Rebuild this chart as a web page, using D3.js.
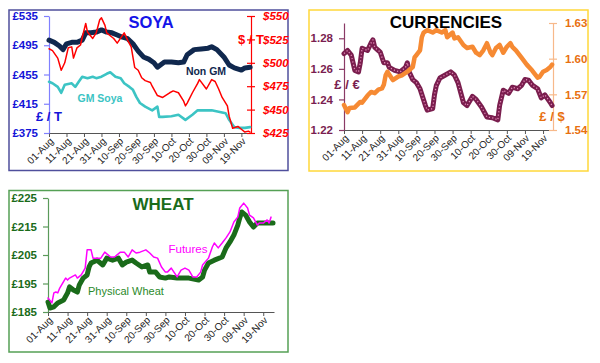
<!DOCTYPE html>
<html><head><meta charset="utf-8">
<script src="https://cdn.jsdelivr.net/npm/d3@7"></script>
<style>
body{margin:0;background:#fff;}
svg{display:block;font-family:"Liberation Sans",Arial,sans-serif;}
</style></head>
<body><svg id="c" width="600" height="363"></svg>
<script>
// ---------- DATA ----------
const tickDays = [0,10,20,30,40,50,60,70,80,90,100,110];
const tickLabels = ["01-Aug","11-Aug","21-Aug","31-Aug","10-Sep","20-Sep","30-Sep","10-Oct","20-Oct","30-Oct","09-Nov","19-Nov"];

// [day offset from 01-Aug, value]
const soyaNonGM = [[0,502],[3,499],[6,494],[8,489],[10,497],[13,499],[16,499],[19,502],[21,512],[24,512],[27,513],[30,516],[33,513],[36,512],[39,509],[42,506],[45,504],[48,497],[51,487],[54,479],[57,476],[60,471],[62,465],[66,472],[70,472],[74,471],[77,472],[79,482],[83,489],[87,490],[91,491],[93,493],[96,489],[100,479],[103,468],[106,464],[110,461],[112,464],[115,465]];
const soyaGM = [[0,445],[2,443],[5,438],[7,430],[9,441],[13,443],[15,438],[17,445],[19,452],[22,450],[25,452],[27,450],[30,452],[33,456],[35,458],[38,452],[41,450],[43,443],[46,438],[48,434],[50,424],[52,416],[55,411],[59,406],[62,411],[63,397],[65,397],[70,398],[74,400],[78,393],[82,400],[85,406],[89,406],[93,406],[97,404],[101,402],[103,393],[106,383],[109,382],[112,382],[115,383]];
const soyaUSD = [[0,515],[2,513],[5,505],[7,492],[9,500],[11,516],[13,517],[14,505],[16,516],[18,519],[19,527],[21,542],[22,533],[25,526],[27,532],[29,546],[30,548],[32,540],[33,532],[37,526],[39,521],[43,532],[45,524],[47,517],[49,495],[51,492],[53,484],[55,481],[58,479],[59,475],[62,465],[65,463],[69,468],[71,470],[74,468],[77,459],[78,454],[79,457],[82,468],[85,478],[86,482],[90,472],[93,482],[95,480],[97,472],[99,463],[102,454],[103,443],[105,430],[108,432],[110,429],[112,426],[114,427],[115,426]];

const gbpEur = [[0,1.270],[2,1.272],[4,1.269],[6,1.259],[8,1.258],[9,1.264],[10,1.2735],[13,1.272],[15,1.277],[16,1.279],[17,1.274],[19,1.272],[20,1.271],[22,1.264],[24,1.264],[25,1.261],[28,1.259],[31,1.258],[34,1.261],[35,1.264],[36,1.258],[38,1.253],[40,1.251],[42,1.247],[45,1.236],[46,1.233],[49,1.234],[50,1.243],[51,1.249],[53,1.254],[56,1.256],[59,1.258],[61,1.256],[63,1.251],[66,1.238],[68,1.236],[71,1.242],[73,1.240],[76,1.235],[79,1.2285],[82,1.228],[85,1.2266],[86,1.236],[88,1.246],[91,1.244],[93,1.248],[96,1.247],[98,1.249],[100,1.253],[102,1.2526],[104,1.2494],[107,1.247],[109,1.241],[111,1.243],[114,1.238],[115,1.236]];
const gbpUsd = [[0,1.561],[2,1.555],[3,1.5585],[6,1.559],[9,1.5636],[10,1.563],[13,1.569],[15,1.572],[17,1.571],[19,1.574],[21,1.575],[22,1.578],[23,1.586],[24,1.589],[27,1.582],[30,1.585],[32,1.586],[35,1.589],[38,1.593],[39,1.601],[40,1.603],[42,1.607],[43,1.618],[44,1.622],[46,1.624],[49,1.622],[51,1.624],[54,1.622],[56,1.624],[57,1.618],[60,1.622],[61,1.617],[63,1.618],[66,1.6115],[68,1.609],[71,1.610],[73,1.605],[75,1.603],[77,1.607],[79,1.613],[81,1.605],[82,1.603],[84,1.609],[86,1.6115],[88,1.605],[90,1.610],[92,1.613],[93,1.610],[95,1.607],[98,1.601],[101,1.595],[104,1.590],[107,1.584],[108,1.5846],[110,1.589],[112,1.5905],[114,1.593],[115,1.595]];

const wheatPhysical = [[0,188.5],[1,186.4],[3,186.8],[5,188.2],[8,189.2],[10,191.7],[11,193.8],[13,192.7],[15,192],[16,194.5],[18,196.9],[20,198],[21,200.8],[22,202.2],[25,203.2],[28,201.5],[30,203.9],[33,203.2],[36,203.9],[38,201.5],[40,202.5],[43,203.2],[45,202.2],[48,200.8],[51,201.5],[52,199],[55,199],[57,197.3],[60,196.9],[62,197.3],[66,196.9],[72,196.9],[77,196.2],[79,197.3],[80,199.7],[82,202.2],[85,203.2],[89,204.3],[91,207.5],[93,209.6],[95,212],[97,215.5],[98,218],[99,220.1],[101,219],[103,216.6],[105,214.8],[107,216.2],[109,216.2],[112,216.2],[115,216.2]];
const wheatFutures = [[0,189.9],[2,188.2],[3,191.7],[4,192],[5,191.7],[6,193.4],[9,196.9],[10,196.2],[11,196.9],[14,198],[15,196.9],[17,198],[19,200.4],[20,206.8],[22,206.8],[23,203.9],[27,203.9],[29,206],[32,204.3],[34,204.3],[37,206],[39,206],[41,204.3],[43,206.8],[45,205.7],[47,206],[50,206.8],[52,205.7],[54,204.3],[56,203.9],[58,200.8],[60,199],[61,199],[63,200.4],[66,197.3],[68,199.7],[70,200.4],[72,199.7],[74,197.3],[76,197.3],[78,199],[79,201.5],[82,203.9],[84,207.8],[85,209.2],[87,207.5],[89,209.2],[91,211],[93,213.1],[95,216.6],[97,218.3],[98,221.5],[100,223.2],[102,221.5],[103,219],[105,218],[107,215.5],[108,216.2],[110,216.2],[112,217.3],[113,216.2],[114,218.3]];

const soyaGBPTicks = [375,415,455,495,535];
const soyaUSDTicks = [425,450,475,500,525,550];
const eurTicks = [1.22,1.24,1.26,1.28];
const usdTicks = [1.54,1.57,1.60,1.63];
const wheatTicks = [185,195,205,215,225];

// ---------- DRAW ----------
const svg = d3.select("#c");
const FONT = '"Liberation Sans",Arial,sans-serif';

function panel(x0,y0,x1,y1,color){
  svg.append("rect").attr("x",x0).attr("y",y0).attr("width",x1-x0).attr("height",y1-y0)
    .attr("fill","#fff").attr("stroke",color).attr("stroke-width",1.5);
}
function xAxis(x, y, lineColor){
  const g = svg.append("g").attr("transform",`translate(0,${y})`)
    .call(d3.axisBottom(x).tickValues(tickDays).tickFormat((d,i)=>tickLabels[i]).tickSize(4).tickSizeOuter(0));
  g.select(".domain").attr("stroke",lineColor);
  g.selectAll(".tick line").attr("stroke",lineColor);
  g.selectAll("text").attr("text-anchor","end").attr("x",-3).attr("y",6).attr("dy","0.35em")
    .attr("transform","rotate(-45)").attr("fill","#222").style("font-size","10px").style("font-family",FONT);
  return g;
}
function leftAxis(y, x, ticks, fmt, lineColor, textColor){
  const g = svg.append("g").attr("transform",`translate(${x},0)`)
    .call(d3.axisLeft(y).tickValues(ticks).tickFormat(fmt).tickSize(5).tickSizeOuter(0).tickPadding(6));
  g.select(".domain").attr("stroke",lineColor).attr("stroke-width",1.2);
  g.selectAll(".tick line").attr("stroke",lineColor).attr("stroke-width",1.2);
  g.selectAll("text").attr("fill",textColor).style("font-size","11.5px").style("font-weight","bold").style("font-family",FONT);
  return g;
}
function rightAxis(y, x, ticks, fmt, lineColor, textColor, italic){
  const g = svg.append("g").attr("transform",`translate(${x},0)`)
    .call(d3.axisRight(y).tickValues(ticks).tickFormat(fmt).tickSizeInner(4).tickSizeOuter(0).tickPadding(8));
  g.select(".domain").attr("stroke",lineColor).attr("stroke-width",1.2);
  g.selectAll(".tick line").attr("x1",-4).attr("x2",4).attr("stroke",lineColor).attr("stroke-width",1.2);
  g.selectAll("text").attr("fill",textColor).style("font-size","11.5px").style("font-weight","bold")
    .style("font-style",italic?"italic":"normal").style("font-family",FONT);
  return g;
}
function line(x,y,data,color,width,extra){
  const gen = d3.line().x(d=>x(d[0])).y(d=>y(d[1]));
  const p = svg.append("path").datum(data).attr("d",gen).attr("fill","none")
    .attr("stroke",color).attr("stroke-width",width).attr("stroke-linejoin","round").attr("stroke-linecap","round");
  if(extra) extra(p);
  return p;
}
function label(x,y,txt,color,size,weight,anchor,style){
  return svg.append("text").attr("x",x).attr("y",y).text(txt).attr("fill",color)
    .style("font-size",size+"px").style("font-weight",weight||"normal").style("font-style",style||"normal")
    .attr("text-anchor",anchor||"start").style("font-family",FONT);
}

// ===== SOYA =====
panel(9,10,288,170.5,"#4f4f9c");
const sx = d3.scaleLinear().domain([0,115.5]).range([49,251]);
const syL = d3.scaleLinear().domain([375,535]).range([133,16]);
const syR = d3.scaleLinear().domain([425,550]).range([133,16]);
xAxis(sx,133,"#555");
leftAxis(syL,49,soyaGBPTicks,d=>"£"+d,"#8080ff","#1414d8");
rightAxis(syR,251,soyaUSDTicks,d=>"$"+d,"#ff0000","#ff0000",true);
line(sx,syL,soyaGM,"#3cc4c4",2.6);
line(sx,syL,soyaNonGM,"#10284e",5);
line(sx,syR,soyaUSD,"#ff0000",1.5);
label(151,28,"SOYA","#1414e8",16.5,"bold","middle");
label(206,75,"Non GM","#10284e",10.5,"bold","middle");
label(100,102,"GM Soya","#3cc4c4",10.5,"bold","middle");
label(49,121,"£ / T","#1414d8",13,"bold","middle");
label(251,44,"$ / T","#ff0000",13,"bold","middle");

// ===== CURRENCIES =====
panel(309,10,588,171,"#ffd83a");
const cx = d3.scaleLinear().domain([0,115.5]).range([344,553]);
const cyL = d3.scaleLinear().domain([1.22,1.29]).range([130,23]);
const cyR = d3.scaleLinear().domain([1.54,1.63]).range([130,23]);
xAxis(cx,130,"#555");
leftAxis(cyL,344,eurTicks,d3.format(".2f"),"#8a3a66","#7a1e50");
rightAxis(cyR,553,usdTicks,d3.format(".2f"),"#f7b98a","#e8700f",false);
line(cx,cyL,gbpEur,"#7a1e4e",5);
line(cx,cyL,gbpEur,"#e48ab8",1.3,p=>p.attr("stroke-dasharray","1.2,2.2").attr("stroke-linecap","butt"));
line(cx,cyR,gbpUsd,"#f68a33",4.5);
label(446,28,"CURRENCIES","#000",17,"bold","middle");
label(347,89,"£ / €","#7a1e50",13,"bold","middle");
label(552,121,"£ / $","#e8700f",13,"bold","middle");

// ===== WHEAT =====
panel(9,190.5,288,352,"#55a055");
const wx = d3.scaleLinear().domain([0,115.5]).range([48,274]);
const wy = d3.scaleLinear().domain([185,225]).range([312,198]);
xAxis(wx,312,"#555");
leftAxis(wy,48,wheatTicks,d=>"£"+d,"#5a9a5a","#1a6b1a");
line(wx,wy,wheatPhysical,"#1a6b1a",5);
line(wx,wy,wheatFutures,"#ff00ff",1.5);
label(163,210,"WHEAT","#1a6b1a",17,"bold","middle");
label(188,253,"Futures","#ff00ff",11.5,"normal","middle");
label(88,295,"Physical Wheat","#2a8a2a",11,"normal","start");
</script>
</body></html>
